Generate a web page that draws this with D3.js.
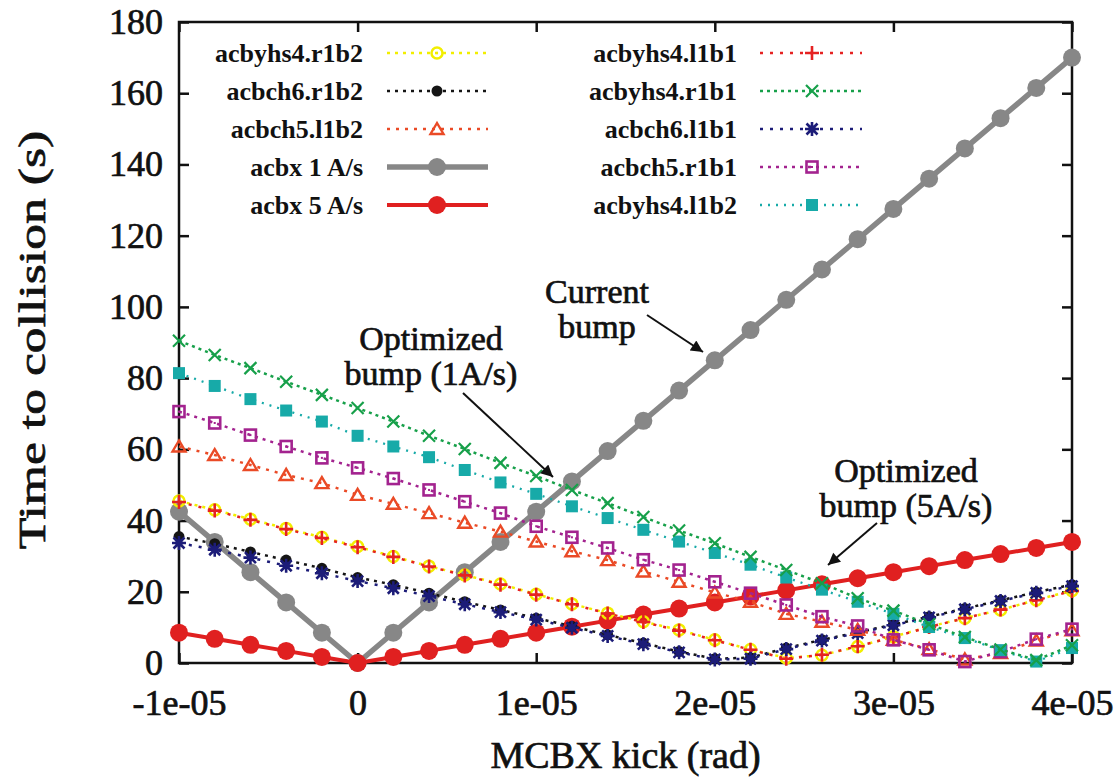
<!DOCTYPE html>
<html><head><meta charset="utf-8">
<script src="https://cdn.jsdelivr.net/npm/d3@7/dist/d3.min.js"></script>
<style>body{margin:0;background:#fff;} svg{display:block;} text{font-family:"Liberation Serif","Times New Roman",serif;fill:#111;}</style>
</head><body><svg id="c" width="1116" height="777"></svg>
<script>
// ---- data ----
const kicks = [-1e-05,-8e-06,-6e-06,-4e-06,-2e-06,0,2e-06,4e-06,6e-06,8e-06,1e-05,1.2e-05,1.4e-05,1.6e-05,1.8e-05,2e-05,2.2e-05,2.4e-05,2.6e-05,2.8e-05,3e-05,3.2e-05,3.4e-05,3.6e-05,3.8e-05,4e-05];
const acbx1 = [42.5,34,25.5,17,8.5,0,8.5,17,25.5,34,42.5,51,59.5,68,76.5,85,93.5,102,110.5,119,127.5,136,144.5,153,161.5,170];
const acbx5 = [8.5,6.8,5.1,3.4,1.7,0,1.7,3.4,5.1,6.8,8.5,10.2,11.9,13.6,15.3,17,18.7,20.4,22.1,23.8,25.5,27.2,28.9,30.6,32.3,34];
const acbyhs4_r1b2 = [45.5,43,40.4,37.8,35.3,32.7,29.9,27.2,24.7,22.2,19.3,16.6,14,11.6,9.3,6.5,3.8,1.4,2.2,4.6,7.4,10.2,12.6,14.9,17.7,20.3];
const acbyhs4_l1b1 = [45.2,42.8,40.2,37.6,35.1,32.5,29.8,27.1,24.6,22,19.2,16.5,13.9,11.5,9.1,6.4,3.7,1.2,2.3,4.7,7.3,10.1,12.6,15,17.6,20.2];
const acbch6_r1b2 = [35.5,33.5,31.2,28.9,26.6,24,22,19.6,17.2,14.9,12.6,10.3,7.9,5.6,3.2,1.2,1.5,4.2,6.5,8.6,10.8,13,15.3,17.6,19.9,22];
const acbch6_l1b1 = [33.7,31.8,29.6,27.3,25.2,23,21,18.8,16.5,14.3,12.2,9.9,7.6,5.3,3,1,1.2,3.9,6.3,8.4,10.6,12.8,15.1,17.4,19.7,21.6];
const acbch5_l1b2 = [60.8,58.4,55.6,52.8,50.5,47.2,44.7,42.1,39.4,36.9,34.1,31.4,28.9,25.7,22.8,19.8,17.2,13.8,11.6,9.3,6.5,3.9,1,2.8,6.3,9.2];
const acbch5_r1b1 = [70.6,67.4,64,60.8,57.6,54.8,51.8,48.6,45.3,42.1,38.4,35.3,32.3,29,26.1,22.8,19.6,16.3,13,10.4,6.5,3.7,0.4,3.2,6.7,9.5];
const acbyhs4_l1b2 = [81.4,77.8,74.1,70.9,67.8,63.8,60.8,57.8,54.2,50.7,47.5,44,40.7,37.4,34.1,30.9,27.6,24,20.6,17.2,13.8,10.1,7,3.6,0.4,4.2];
const acbyhs4_r1b1 = [90.5,86.5,82.8,79,75.3,71.6,67.8,63.8,60.1,56.2,52.5,48.6,44.9,41,37.2,33.6,29.8,26.1,22.4,18.2,14.7,10.9,7.3,3.8,0.8,5];
const xTicks = [-1e-05,0,1e-05,2e-05,3e-05,4e-05];
const xTickLabels = ["-1e-05","0","1e-05","2e-05","3e-05","4e-05"];
const yTicks = [0,20,40,60,80,100,120,140,160,180];

const series = [
  {name:"acbx 1 A/s", values:acbx1, color:"#878787", dash:null, width:5.5, marker:"bigcircle", col:0, row:3},
  {name:"acbx 5 A/s", values:acbx5, color:"#e02020", dash:null, width:4, marker:"bigcircle", col:0, row:4},
  {name:"acbyhs4.r1b2", values:acbyhs4_r1b2, color:"#f2ee00", dash:"3,5", width:2.5, marker:"ocircle", col:0, row:0},
  {name:"acbyhs4.l1b1", values:acbyhs4_l1b1, color:"#e52222", dash:"3,7", width:2.5, marker:"plus", col:1, row:0},
  {name:"acbch6.r1b2", values:acbch6_r1b2, color:"#151515", dash:"3,5", width:2.5, marker:"fcircle", col:0, row:1},
  {name:"acbch6.l1b1", values:acbch6_l1b1, color:"#1c1c78", dash:"3,7", width:2.5, marker:"star", col:1, row:2},
  {name:"acbch5.l1b2", values:acbch5_l1b2, color:"#ea4a26", dash:"3,6", width:2.5, marker:"tri", col:0, row:2},
  {name:"acbch5.r1b1", values:acbch5_r1b1, color:"#a3238f", dash:"3,5", width:2.5, marker:"osquare", col:1, row:3},
  {name:"acbyhs4.l1b2", values:acbyhs4_l1b2, color:"#17aaa8", dash:"2,6", width:2.3, marker:"fsquare", col:1, row:4},
  {name:"acbyhs4.r1b1", values:acbyhs4_r1b1, color:"#17a04a", dash:"3,4", width:2.5, marker:"xcross", col:1, row:1}
];

// ---- layout ----
const svg = d3.select("#c");
const L = 179, R = 1072, T = 22, B = 663;
const x = d3.scaleLinear().domain([-1e-05, 4e-05]).range([L, R]);
const y = d3.scaleLinear().domain([0, 180]).range([B, T]);

function drawMarker(g, type, cx, cy, color) {
  switch (type) {
    case "bigcircle": g.append("circle").attr("cx",cx).attr("cy",cy).attr("r",9).attr("fill",color); break;
    case "fcircle": g.append("circle").attr("cx",cx).attr("cy",cy).attr("r",5.5).attr("fill",color); break;
    case "ocircle":
      g.append("circle").attr("cx",cx).attr("cy",cy).attr("r",5.5).attr("fill","none").attr("stroke",color).attr("stroke-width",2.5);
      g.append("circle").attr("cx",cx).attr("cy",cy).attr("r",1.2).attr("fill",color); break;
    case "plus":
      g.append("path").attr("d",`M${cx-7},${cy}H${cx+7}M${cx},${cy-7}V${cy+7}`).attr("stroke",color).attr("stroke-width",2.6).attr("fill","none"); break;
    case "xcross":
      g.append("path").attr("d",`M${cx-6},${cy-6}L${cx+6},${cy+6}M${cx-6},${cy+6}L${cx+6},${cy-6}`).attr("stroke",color).attr("stroke-width",2.2).attr("fill","none"); break;
    case "star":
      g.append("path").attr("d",`M${cx-7},${cy}H${cx+7}M${cx},${cy-7}V${cy+7}M${cx-5.5},${cy-5.5}L${cx+5.5},${cy+5.5}M${cx-5.5},${cy+5.5}L${cx+5.5},${cy-5.5}`).attr("stroke",color).attr("stroke-width",2.6).attr("fill","none");
      g.append("circle").attr("cx",cx).attr("cy",cy).attr("r",3.5).attr("fill",color); break;
    case "tri":
      g.append("path").attr("d",`M${cx},${cy-6}L${cx+6.5},${cy+5}L${cx-6.5},${cy+5}Z`).attr("stroke",color).attr("stroke-width",2.4).attr("fill","none"); break;
    case "osquare":
      g.append("rect").attr("x",cx-5.5).attr("y",cy-5.5).attr("width",11).attr("height",11).attr("fill","none").attr("stroke",color).attr("stroke-width",2.6);
      g.append("rect").attr("x",cx-1).attr("y",cy-1).attr("width",2).attr("height",2).attr("fill",color); break;
    case "fsquare":
      g.append("rect").attr("x",cx-6).attr("y",cy-6).attr("width",12).attr("height",12).attr("fill",color); break;
  }
}

// frame
svg.append("rect").attr("x",L).attr("y",T).attr("width",R-L).attr("height",B-T).attr("fill","none").attr("stroke","#111").attr("stroke-width",2.5);

// axes (ticks inward, mirrored)
const fs = 36;
const heavy = sel => sel.attr("stroke","#111").attr("stroke-width",0.7);
const axB = d3.axisBottom(x).tickValues(xTicks).tickFormat((d,i)=>xTickLabels[i]).tickSizeInner(-10).tickSizeOuter(0).tickPadding(26);
const gB = svg.append("g").attr("transform",`translate(0,${B})`).call(axB);
const axT = d3.axisTop(x).tickValues(xTicks).tickFormat("").tickSizeInner(-10).tickSizeOuter(0);
const gT = svg.append("g").attr("transform",`translate(0,${T})`).call(axT);
const axLft = d3.axisLeft(y).tickValues(yTicks).tickFormat(d3.format("d")).tickSizeInner(-10).tickSizeOuter(0).tickPadding(16);
const gL = svg.append("g").attr("transform",`translate(${L},0)`).call(axLft);
const axRt = d3.axisRight(y).tickValues(yTicks).tickFormat("").tickSizeInner(-10).tickSizeOuter(0);
const gR = svg.append("g").attr("transform",`translate(${R},0)`).call(axRt);
[gB,gT,gL,gR].forEach(g=>{
  g.select(".domain").remove();
  g.selectAll(".tick line").attr("stroke","#111").attr("stroke-width",2.5);
  g.selectAll("text").attr("font-family","Liberation Serif, serif").attr("font-size",fs).attr("fill","#111").call(heavy);
});
gB.selectAll("text").attr("dy","0.71em");

// axis titles
svg.append("text").attr("x",(L+R)/2).attr("y",768).attr("text-anchor","middle").attr("font-size",38).call(heavy).text("MCBX kick (rad)");
svg.append("text").attr("transform",`translate(45,340) rotate(-90) scale(1.36,1)`).attr("text-anchor","middle").attr("font-size",38).call(heavy).text("Time to collision (s)");

// data
const line = d3.line().x((d,i)=>x(kicks[i])).y(d=>y(d));
const plot = svg.append("g");
series.forEach(s=>{
  const g = plot.append("g");
  const p = g.append("path").datum(s.values).attr("d",line).attr("fill","none").attr("stroke",s.color).attr("stroke-width",s.width).attr("stroke-linejoin","round");
  if (s.dash) p.attr("stroke-dasharray",s.dash).attr("stroke-linecap","butt");
  s.values.forEach((v,i)=>drawMarker(g, s.marker, x(kicks[i]), y(v), s.color));
});

// legend
const legCols = [{textR:363, l0:387, l1:488, m:437},{textR:737, l0:760, l1:862, m:812}];
const legRows = [53,91,129,167,205];
series.forEach(s=>{
  const c = legCols[s.col], ry = legRows[s.row];
  const g = svg.append("g");
  g.append("text").attr("x",c.textR).attr("y",ry+9).attr("text-anchor","end").attr("font-size",26).attr("font-weight","bold").text(s.name);
  const ln = g.append("line").attr("x1",c.l0).attr("x2",c.l1).attr("y1",ry).attr("y2",ry).attr("stroke",s.color).attr("stroke-width",s.width);
  if (s.dash) ln.attr("stroke-dasharray",s.dash);
  drawMarker(g, s.marker, c.m, ry, s.color);
});

// annotations
svg.append("defs").append("marker").attr("id","ah").attr("viewBox","0 0 10 10").attr("refX",10).attr("refY",5)
  .attr("markerWidth",16).attr("markerHeight",12).attr("markerUnits","userSpaceOnUse").attr("orient","auto")
  .append("path").attr("d","M0,0L10,5L0,10Z").attr("fill","#111");
function annot(lines, cx, y0, ax0, ay0, ax1, ay1) {
  lines.forEach((t,i)=>svg.append("text").attr("x",cx).attr("y",y0+i*35).attr("text-anchor","middle").attr("font-size",34).call(heavy).text(t));
  svg.append("line").attr("x1",ax0).attr("y1",ay0).attr("x2",ax1).attr("y2",ay1).attr("stroke","#111").attr("stroke-width",2).attr("marker-end","url(#ah)");
}
annot(["Current","bump"], 597, 303, 647, 315, 703, 352);
annot(["Optimized","bump (1A/s)"], 431, 350, 463, 393, 553, 477);
annot(["Optimized","bump (5A/s)"], 906, 482, 877, 523, 828, 565);
</script></body></html>
